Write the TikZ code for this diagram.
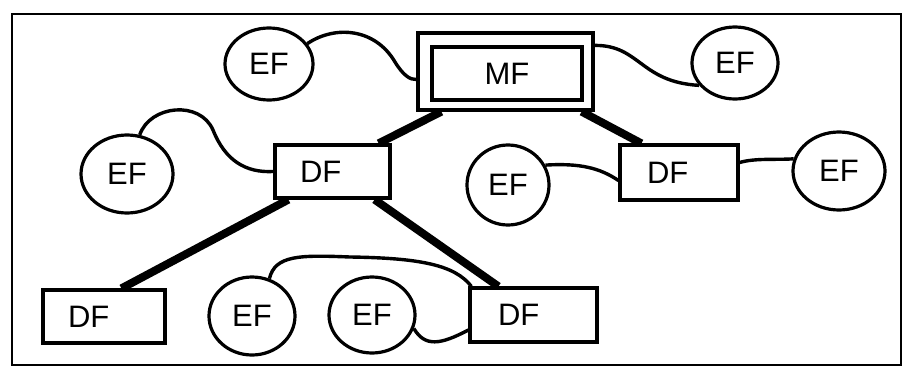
\documentclass[tikz,border=0pt]{standalone}
\usepackage{fontspec}
\setmainfont{Liberation Sans}
\usetikzlibrary{shapes.geometric,calc}
\tikzset{
  ef/.style={ellipse,draw,line width=3.2pt,inner sep=0pt,minimum width=#1},
  ef/.default=88pt,
  dfbox/.style={rectangle,draw,line width=3.2pt,inner xsep=0pt,inner ysep=0pt,
     align=left,text width=#1,minimum height=53pt},
  thick link/.style={line width=8pt},
  thin link/.style={line width=3.4pt},
  txt/.style={font=\fontsize{31}{31}\selectfont}
}
\begin{document}
\begin{tikzpicture}[x=1pt,y=-1pt,every node/.style={txt}]
\useasboundingbox (0,0) rectangle (903,367);
\draw[line width=2.6pt] (12,14) rectangle (901,365);
% main frame
\node[rectangle,draw,line width=3.2pt,minimum width=175pt,minimum height=77pt] (mf) at (505.5,71.5) {};
\node[rectangle,draw,line width=3.2pt,minimum width=150pt,minimum height=53pt] (mfi) at (507,73.5) {MF};
% ellipses
\node[ef,minimum height=72pt] (ef1) at (269,64) {EF};
\node[ef=86pt,minimum height=72pt] (ef2) at (735,63) {EF};
\node[ef=92pt,minimum height=78pt] (ef3) at (127,174) {EF};
\node[ef=82pt,minimum height=80pt] (ef4) at (508,185) {EF};
\node[ef=92pt,minimum height=78pt] (ef5) at (839,171) {EF};
\node[ef=86pt,minimum height=78pt] (ef6) at (252,316) {EF};
\node[ef=86pt,minimum height=76pt] (ef7) at (372,315) {EF};
% DF boxes
\node[dfbox=115pt] (df1) at (332.5,171.5) {\hspace*{25pt}DF};
\node[dfbox=118pt,minimum height=55pt] (df2) at (679,172.5) {\hspace*{27pt}DF};
\node[dfbox=122pt] (df3) at (104,316.5) {\hspace*{25pt}DF};
\node[dfbox=127pt,minimum height=54pt] (df4) at (533.5,315) {\hspace*{28pt}DF};
% thick links
\draw[thick link] ($(mf.south west)+(25,0)$) -- ($(df1.north east)+(-13,0)$);
\draw[thick link] ($(mf.south east)+(-13,0)$) -- ($(df2.north west)+(23,0)$);
\draw[thick link] ($(df1.south west)+(15,0)$) -- ($(df3.north west)+(80,0)$);
\draw[thick link] ($(df1.south east)+(-17,0)$) -- ($(df4.north west)+(30,0)$);
% thin links
\draw[thin link] (ef1.28) .. controls (335,25) and (375,28) .. (395,62)
   .. controls (403,75) and (410,80) .. ($(mf.west)+(0,8)$);
\draw[thin link] ($(mf.north east)+(0,14)$) .. controls (640,45) and (640,82) .. (ef2.212);
\draw[thin link] (ef3.72) .. controls (150,105) and (200,100) .. (213,130)
   .. controls (225,160) and (245,173) .. (df1.west);
\draw[thin link] (ef4.28) .. controls (580,163) and (600,168) .. ($(df2.west)+(0,8)$);
\draw[thin link] ($(df2.east)+(0,-10)$) .. controls (755,158) and (775,160) .. (ef5.165);
\draw[thin link] (ef6.65) .. controls (275,255) and (300,255) .. (350,257)
   .. controls (420,258) and (455,265) .. ($(df4.north west)+(3,0)$);
\draw[thin link] (ef7.-18) .. controls (425,347) and (440,345) .. ($(df4.west)+(0,15)$);
\end{tikzpicture}
\end{document}
